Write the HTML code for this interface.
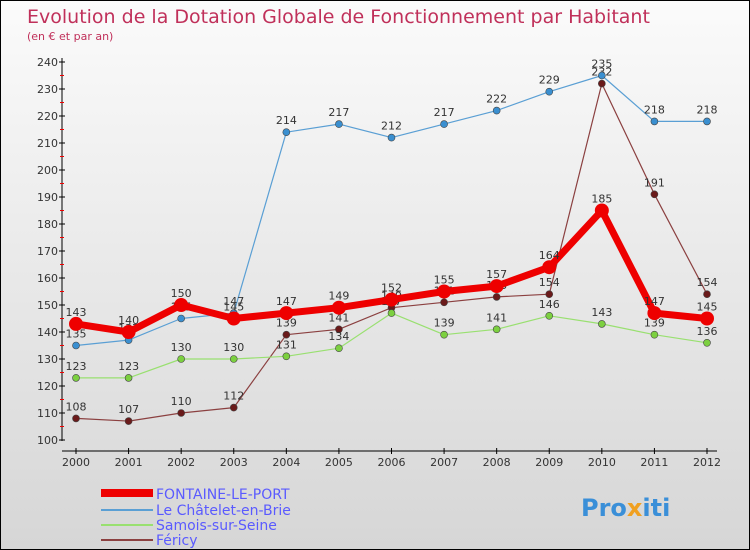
<!DOCTYPE html>
<html><head><meta charset="utf-8"><style>
body{margin:0}
#c{width:750px;height:550px;position:relative;box-sizing:border-box;border:1px solid #000;background:linear-gradient(#fbfbfb,#d6d6d6);font-family:"DejaVu Sans","Liberation Sans",sans-serif;overflow:hidden}
text{font-family:"DejaVu Sans","Liberation Sans",sans-serif}
</style></head><body>
<div id="c">
<svg width="750" height="550" id="s">
<text x="26" y="22" font-size="19" fill="#c0305a">Evolution de la Dotation Globale de Fonctionnement par Habitant</text>
<text x="26" y="39" font-size="11" fill="#c0305a">(en € et par an)</text>
<g id="ax"></g><g id="ser"></g>
<g>
<line x1="100" y1="492" x2="152" y2="492" stroke="#e00" stroke-width="8"/>
<text x="155" y="498" font-size="14" fill="#5a5aff">FONTAINE-LE-PORT</text>
<line x1="100" y1="509" x2="152" y2="509" stroke="#5a9fd4" stroke-width="2"/>
<text x="155" y="514" font-size="14" fill="#5a5aff">Le Châtelet-en-Brie</text>
<line x1="100" y1="524" x2="152" y2="524" stroke="#99e070" stroke-width="2"/>
<text x="155" y="529" font-size="14" fill="#5a5aff">Samois-sur-Seine</text>
<line x1="100" y1="539" x2="152" y2="539" stroke="#8b4040" stroke-width="2"/>
<text x="155" y="544" font-size="14" fill="#5a5aff">Féricy</text>
</g>
<text x="580" y="515" font-size="24" font-weight="bold" fill="#3a8fd8">Pro<tspan fill="#f0a020">x</tspan>iti</text>
</svg>
</div>
<script>
const years=[2000,2001,2002,2003,2004,2005,2006,2007,2008,2009,2010,2011,2012];
const yTicks=[100,110,120,130,140,150,160,170,180,190,200,210,220,230,240];
const fontaine=[143,140,150,145,147,149,152,155,157,164,185,147,145];
const chatelet=[135,137,145,147,214,217,212,217,222,229,235,218,218];
const samois=[123,123,130,130,131,134,147,139,141,146,143,139,136];
const fericy=[108,107,110,112,139,141,149,151,153,154,232,191,154];
const NS="http://www.w3.org/2000/svg";
const X=y=>75+(y-2000)*(706-75)/12;
const Y=v=>439-(v-100)*(439-61)/140;
function mk(t,a,p){const e=document.createElementNS(NS,t);for(const k in a)e.setAttribute(k,a[k]);p.appendChild(e);return e;}
const ax=document.getElementById('ax');
let l=mk('line',{x1:61,y1:57,x2:61,y2:440,stroke:'#000'},ax);


l=mk('line',{x1:61,y1:450,x2:716,y2:450,stroke:'#000'},ax);


yTicks.forEach(v=>{
 mk('line',{x1:58,y1:Y(v),x2:64,y2:Y(v),stroke:'#000'},ax);
 if(v<240)mk('line',{x1:59,y1:Y(v+5),x2:63,y2:Y(v+5),stroke:'#e00'},ax);
 const t=mk('text',{x:57,y:Y(v)+4,'font-size':11,'text-anchor':'end',fill:'#333'},ax);t.textContent=v;
 
 
});
years.forEach(y=>{
 mk('line',{x1:X(y),y1:447,x2:X(y),y2:453,stroke:'#000'},ax);
 const t=mk('text',{x:X(y),y:465,'font-size':11,'text-anchor':'middle',fill:'#333'},ax);t.textContent=y;
 
 
});
const ser=document.getElementById('ser');
function draw(d,col,w,r,name,dot){
 const g=mk('g',{},ser);
 
 
 mk('polyline',{points:d.map((v,i)=>X(years[i])+','+Y(v)).join(' '),fill:'none',stroke:col,'stroke-width':w,'stroke-linejoin':'round'},g);
 d.forEach((v,i)=>{
  const c=mk('circle',{cx:X(years[i]),cy:Y(v),r:r,fill:dot,stroke:'#444','stroke-width':r>5?0:0.6},g);
  
  
  const t=mk('text',{x:X(years[i]),y:Y(v)-8,'font-size':11,'text-anchor':'middle',fill:'#333'},g);t.textContent=v;
 });
}
draw(fericy,'#8b4040',1.2,3.5,'series-fericy','#6a1a1a');
draw(samois,'#99e070',1.2,3.5,'series-samois','#7cd040');
draw(chatelet,'#5a9fd4',1.2,3.5,'series-chatelet','#3a8fd0');
draw(fontaine,'#e00',7,7,'series-fontaine','#e00');
</script>
</body></html>
